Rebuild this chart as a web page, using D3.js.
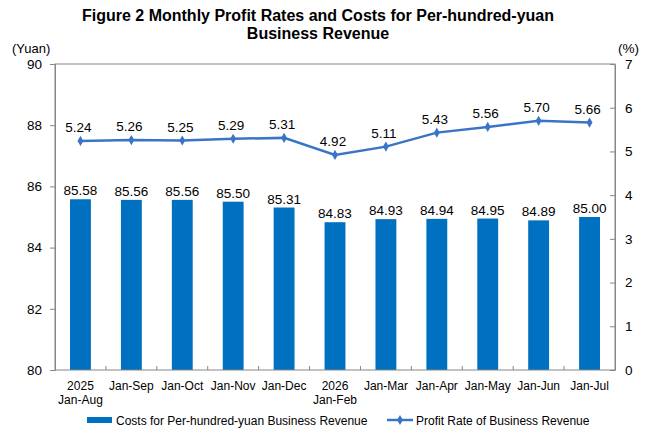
<!DOCTYPE html>
<html>
<head>
<meta charset="utf-8">
<script src="https://cdn.jsdelivr.net/npm/d3@7"></script>
<style>
  body { margin: 0; background: #fff; }
  text { font-family: Arial, "Liberation Sans", sans-serif; fill: #000; }
</style>
</head>
<body>
<svg id="chart" width="660" height="440"></svg>
<script>
"use strict";

// Chart data
const categories = ["2025|Jan-Aug", "Jan-Sep", "Jan-Oct", "Jan-Nov", "Jan-Dec",
  "2026|Jan-Feb", "Jan-Mar", "Jan-Apr", "Jan-May", "Jan-Jun", "Jan-Jul"];
const costValues = [85.58, 85.56, 85.56, 85.50, 85.31, 84.83, 84.93, 84.94, 84.95, 84.89, 85.00];
const profitValues = [5.24, 5.26, 5.25, 5.29, 5.31, 4.92, 5.11, 5.43, 5.56, 5.70, 5.66];
const leftTicks = [80, 82, 84, 86, 88, 90];
const rightTicks = [0, 1, 2, 3, 4, 5, 6, 7];

const barColor = "#0070C0";
const lineColor = "#3A74C6";
const axisColor = "#868686";

const margin = { top: 64, right: 45, bottom: 70, left: 55 };
const width = 660, height = 440;

const svg = d3.select("#chart");

const x = d3.scaleBand()
  .domain(categories)
  .range([margin.left, width - margin.right])
  .paddingInner(0.59)
  .paddingOuter(0.295);

const yLeft = d3.scaleLinear().domain([80, 90]).range([height - margin.bottom, margin.top]);
const yRight = d3.scaleLinear().domain([0, 7]).range([height - margin.bottom, margin.top]);

// Title
svg.append("text")
  .attr("x", 318).attr("y", 21)
  .attr("text-anchor", "middle")
  .style("font-weight", "bold").style("font-size", "16px")
  .text("Figure 2 Monthly Profit Rates and Costs for Per-hundred-yuan");
svg.append("text")
  .attr("x", 318).attr("y", 39)
  .attr("text-anchor", "middle")
  .style("font-weight", "bold").style("font-size", "16px")
  .text("Business Revenue");

// Units
svg.append("text").attr("x", 12).attr("y", 53).style("font-size", "13px").text("(Yuan)");
svg.append("text").attr("x", 618).attr("y", 53).style("font-size", "13.5px").text("(%)");

// Bars
svg.append("g")
  .selectAll("rect")
  .data(costValues)
  .join("rect")
  .attr("x", (d, i) => x(categories[i]))
  .attr("y", d => yLeft(d))
  .attr("width", x.bandwidth())
  .attr("height", d => yLeft(80) - yLeft(d))
  .attr("fill", barColor);

svg.append("g")
  .selectAll("text")
  .data(costValues)
  .join("text")
  .attr("x", (d, i) => x(categories[i]) + x.bandwidth() / 2)
  .attr("y", d => yLeft(d) - 4)
  .attr("text-anchor", "middle")
  .style("font-size", "13.5px")
  .text(d => d.toFixed(2));

// Frame
const plotL = margin.left, plotR = width - margin.right;
const plotT = margin.top, plotB = height - margin.bottom;
svg.append("rect")
  .attr("x", plotL).attr("y", plotT)
  .attr("width", plotR - plotL).attr("height", plotB - plotT)
  .attr("fill", "none").attr("stroke", axisColor).attr("stroke-width", 1);

// Left axis
const gLeft = svg.append("g")
  .attr("transform", `translate(${plotL},0)`)
  .call(d3.axisLeft(yLeft).tickValues(leftTicks).tickSize(5).tickPadding(8).tickFormat(d3.format("d")));
gLeft.select(".domain").attr("stroke", axisColor);
gLeft.selectAll(".tick line").attr("stroke", axisColor);
gLeft.selectAll(".tick text").style("font-size", "13.5px").style("font-family", "Arial, 'Liberation Sans', sans-serif");

// Right axis (ticks point into the plot)
const gRight = svg.append("g")
  .attr("transform", `translate(${plotR},0)`)
  .call(d3.axisRight(yRight).tickValues(rightTicks).tickSize(0).tickPadding(10).tickFormat(d3.format("d")));
gRight.select(".domain").attr("stroke", axisColor);
gRight.selectAll(".tick line").attr("x2", -5).attr("stroke", axisColor);
gRight.selectAll(".tick text").style("font-size", "13.5px").style("font-family", "Arial, 'Liberation Sans', sans-serif");

// Bottom axis: ticks between categories
const step = x.step();
const gBottom = svg.append("g").attr("transform", `translate(0,${plotB})`);
gBottom.selectAll("line.sep")
  .data(categories.slice(1))
  .join("line")
  .attr("class", "sep")
  .attr("x1", d => x(d) - step * x.paddingInner() / 2)
  .attr("x2", d => x(d) - step * x.paddingInner() / 2)
  .attr("y1", 0).attr("y2", -4)
  .attr("stroke", axisColor);

gBottom.selectAll("text.cat")
  .data(categories)
  .join("text")
  .attr("class", "cat")
  .attr("text-anchor", "middle")
  .attr("transform", d => `translate(${x(d) + x.bandwidth() / 2},0)`)
  .style("font-size", "12px")
  .each(function(d) {
    d3.select(this).selectAll("tspan")
      .data(d.split("|"))
      .join("tspan")
      .attr("x", 0)
      .attr("y", (t, i) => 20 + i * 14)
      .text(t => t);
  });

// Profit line
const line = d3.line()
  .x((d, i) => x(categories[i]) + x.bandwidth() / 2)
  .y(d => yRight(d));

svg.append("path")
  .datum(profitValues)
  .attr("d", line)
  .attr("fill", "none")
  .attr("stroke", lineColor)
  .attr("stroke-width", 2.5);

const diamond = d3.symbol().type(d3.symbolDiamond).size(30);
svg.append("g")
  .selectAll("path")
  .data(profitValues)
  .join("path")
  .attr("d", diamond)
  .attr("transform", (d, i) => `translate(${x(categories[i]) + x.bandwidth() / 2},${yRight(d)})`)
  .attr("fill", lineColor);

svg.append("g")
  .selectAll("text")
  .data(profitValues)
  .join("text")
  .attr("x", (d, i) => x(categories[i]) + x.bandwidth() / 2 - 2)
  .attr("y", d => yRight(d) - 9)
  .attr("text-anchor", "middle")
  .style("font-size", "13.5px")
  .text(d => d.toFixed(2));

// Legend
const legend = svg.append("g").attr("transform", "translate(0,420)");
legend.append("rect")
  .attr("x", 87).attr("y", -3).attr("width", 25).attr("height", 6)
  .attr("fill", barColor);
legend.append("text")
  .attr("x", 116).attr("y", 4.5)
  .style("font-size", "12px")
  .text("Costs for Per-hundred-yuan Business Revenue");
legend.append("line")
  .attr("x1", 387).attr("x2", 413).attr("y1", 0).attr("y2", 0)
  .attr("stroke", lineColor).attr("stroke-width", 2.5);
legend.append("path")
  .attr("d", diamond)
  .attr("transform", "translate(400,0)")
  .attr("fill", lineColor);
legend.append("text")
  .attr("x", 416).attr("y", 4.5)
  .style("font-size", "12px")
  .text("Profit Rate of Business Revenue");
</script>
</body>
</html>
